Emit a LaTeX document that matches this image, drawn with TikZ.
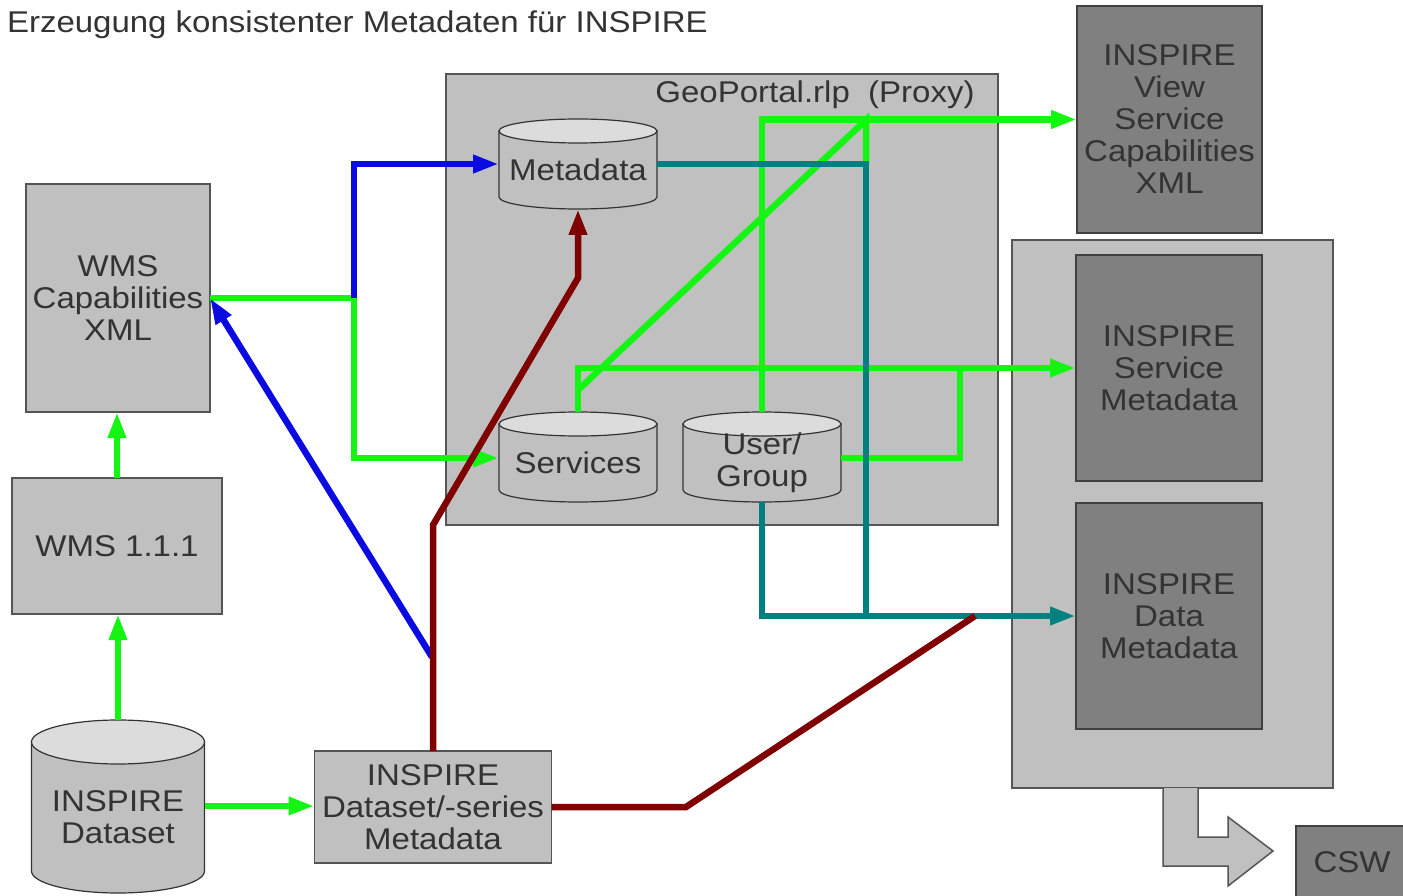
\documentclass[tikz,border=0pt]{standalone}
\usepackage{fontspec}
\setmainfont[FakeStretch=1.1]{Liberation Sans}
\usetikzlibrary{arrows.meta}

\definecolor{boxgray}{RGB}{192,192,192}
\definecolor{deepbox}{RGB}{128,128,128}
\definecolor{edgegray}{RGB}{85,85,85}
\definecolor{topgray}{RGB}{220,220,220}
\definecolor{inktext}{RGB}{51,51,51}
\definecolor{flowgreen}{RGB}{20,245,20}
\definecolor{flowblue}{RGB}{10,10,225}
\definecolor{flowteal}{RGB}{0,128,128}
\definecolor{flowbrown}{RGB}{128,0,0}

% drum: name, centre x, top, bottom, x radius, y radius, text
\newcommand\drum[7]{%
\filldraw[drumbody] (#2-#5,-#3-#6) -- (#2-#5,-#4+#6)
  arc[start angle=180,end angle=360,x radius=#5,y radius=#6] -- (#2+#5,-#3-#6) -- cycle;
\filldraw[drumtop] (#2,-#3-#6) ellipse[x radius=#5,y radius=#6];
\node[minimum width=2*#5pt, minimum height=(#4-#3-#6)*1pt] (#1) at (#2,{-(#3+#6+#4)/2}) {#7};
}

\begin{document}
\begin{tikzpicture}[x=1pt, y=1pt,
  every node/.style={inner sep=0pt, outer sep=0pt, align=center, text=inktext, font=\fontsize{30}{32}\selectfont},
  box/.style={draw=edgegray, fill=boxgray, line width=1.5pt},
  darkbox/.style={draw=black!75, fill=deepbox, line width=1.5pt},
  drumbody/.style={fill=boxgray, draw=black!80, line width=1.2pt},
  drumtop/.style={fill=topgray, draw=black!80, line width=1.2pt},
  conn/.style={line width=6.5pt},
  arrowed/.style={-{Triangle[length=26pt,width=17pt]}},
  gline/.style={conn, draw=flowgreen},
  bline/.style={conn, draw=flowblue},
  tline/.style={conn, draw=flowteal},
  rline/.style={conn, draw=flowbrown}]
\fill[white] (0,0) rectangle (1403,-896);
\useasboundingbox (0,0) rectangle (1403,-896);

\node[anchor=base west] (title) at (7,-33) {Erzeugung konsistenter Metadaten für INSPIRE};

% proxy
\node[box, minimum width=552pt, minimum height=451pt] (proxy) at (722,-299.5) {};
\node (proxyname) at (815,-95) {GeoPortal.rlp~~(Proxy)};
\drum{meta}{578}{119}{209}{79}{12}{Metadata}
\drum{serv}{578}{412}{502}{79}{12}{Services}
\drum{user}{762}{412}{502}{79}{12}{User/\\Group}

% left side
\node[box, minimum width=184pt, minimum height=228pt] (wmscap) at (118,-298) {WMS\\Capabilities\\XML};
\node[box, minimum width=210pt, minimum height=136pt] (wms) at (117,-546) {WMS 1.1.1};
\drum{dataset}{118}{720}{893}{86.5}{22}{INSPIRE\\Dataset}
\node[box, minimum width=237pt, minimum height=112pt] (dsmeta) at (433,-807) {INSPIRE\\Dataset/-series\\Metadata};

% right side
\node[darkbox, minimum width=185pt, minimum height=227pt] (viewcap) at (1169.5,-119.5) {INSPIRE\\View\\Service\\Capabilities\\XML};
\node[box, minimum width=321pt, minimum height=548pt] (cat) at (1172.5,-514) {};
\node[darkbox, minimum width=186pt, minimum height=226pt] (srvmeta) at (1169,-368) {INSPIRE\\Service\\Metadata};
\node[darkbox, minimum width=186pt, minimum height=226pt] (datameta) at (1169,-616) {INSPIRE\\Data\\Metadata};
\filldraw[box] (1163,-788) -- (1163,-866) -- (1228,-866) -- (1228,-886) -- (1273,-851)
  -- (1228,-817) -- (1228,-837) -- (1198,-837) -- (1198,-788);
\node[darkbox, minimum width=112pt, minimum height=72pt] (csw) at (1352,-862) {CSW};

\coordinate (split) at (354,-298);
\coordinate (kink) at (578,-390);
\coordinate (fork) at (866,-120);
\coordinate (tealcorner) at (866,-164);
\coordinate (merge) at (960,-368);
\coordinate (bend) at (866,-616);
\coordinate (bluefoot) at (432,-657);
\coordinate (elbow) at (433,-525);
\coordinate (knee) at (578,-278);
\coordinate (corner) at (686,-807);
\coordinate (redend) at (975,-616);

% green
\draw[gline, arrowed] ([yshift=22pt]dataset.north) -- (dataset.north |- wms.south);
\draw[gline, arrowed] (wms.north) -- (wms.north |- wmscap.south);
\draw[gline, arrowed] ([yshift=11.5pt]dataset.east) -- ([yshift=11.5pt]dataset.east -| dsmeta.west);
\draw[gline, arrowed] (wmscap.east) -- (split) |- ([yshift=5pt]serv.west);
\draw[gline, arrowed] ([yshift=12pt]serv.north) |- (srvmeta.west);
\draw[gline] (kink) -- (fork) -- (tealcorner);
\draw[gline, arrowed] ([yshift=12pt]user.north) |- (viewcap.west);
\draw[gline] ([yshift=5pt]user.east) -| (merge);

% teal
\draw[tline, arrowed] ([yshift=6pt]meta.east) -- (tealcorner) -- (bend) -- (datameta.west);
\draw[tline] (user.south) |- (bend);

% blue
\draw[bline, arrowed] (bluefoot) -- (wmscap.east);
\draw[bline, arrowed] (split) |- ([yshift=6pt]meta.west);

% brown
\draw[rline, arrowed] (dsmeta.north) -- (elbow) -- (knee) -- (meta.south);
\draw[rline] (dsmeta.east) -- (corner) -- (redend);
\end{tikzpicture}
\end{document}
